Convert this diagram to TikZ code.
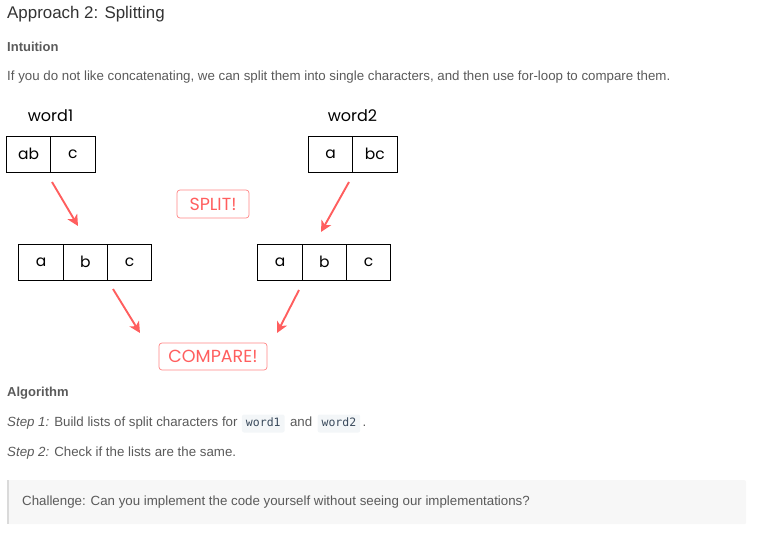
\documentclass[tikz,border=0pt]{standalone}
\usepackage{fontspec}
\setmainfont{Liberation Sans}
\setmonofont{DejaVu Sans Mono}
\newfontfamily\sketchfont{Poppins}
\usetikzlibrary{arrows.meta, positioning}

\definecolor{headgray}{HTML}{333333}
\definecolor{textgray}{HTML}{5A5A5A}
\definecolor{splitred}{HTML}{FF5E5E}
\definecolor{codebg}{HTML}{F3F6F8}
\definecolor{codefg}{HTML}{3A4A5C}
\definecolor{notebg}{HTML}{F7F7F7}
\definecolor{notebar}{HTML}{DADADA}

\tikzstyle{cell} = [rectangle, draw=black, line width=0.8pt, minimum width=44.3pt, minimum height=36pt, inner sep=0pt, outer sep=0pt, font=\sketchfont\fontsize{15.5}{15.5}\selectfont]
\tikzstyle{wordname} = [inner sep=0pt, font=\sketchfont\fontsize{16}{16}\selectfont]
\tikzstyle{shout} = [rectangle, rounded corners=3pt, draw=splitred!75, line width=0.7pt, text=splitred, inner sep=0pt, font=\sketchfont\fontsize{17.5}{17.5}\selectfont]
\tikzstyle{arrow} = [line width=1.9pt, draw=splitred, -{Stealth[length=11pt, width=11pt, inset=3pt]}]
\tikzstyle{body} = [anchor=base west, inner sep=0pt, text=textgray, font=\fontsize{13.3}{15}\selectfont]
\tikzstyle{codeword} = [fill=codebg, rounded corners=2pt, inner xsep=4pt, text=codefg, text height=8.5pt, text depth=2.5pt, inner ysep=3.5pt, font=\ttfamily\fontsize{11.5}{13}\selectfont]

\begin{document}
\begin{tikzpicture}[x=1pt, y=-1pt]
    \useasboundingbox (0,0) rectangle (760,537);

    % heading and intro
    \node (title) [body, text=headgray, font=\fontsize{16.9}{18}\selectfont] at (7,19) {Approach 2: Splitting};
    \node (intuition) [body, font=\bfseries\fontsize{13}{14}\selectfont] at (7,52) {Intuition};
    \node (intro) [body] at (7,81) {If you do not like concatenating, we can split them into single characters, and then use for-loop to compare them.};

    % input words
    \node (w1ab) [cell] at (28.5,154) {ab};
    \node (w1c) [cell, right=0pt of w1ab] {c};
    \node (word1) [wordname, anchor=base] at (50.5,122) {word1};
    \node (w2a) [cell] at (330.5,154) {a};
    \node (w2bc) [cell, right=0pt of w2a] {bc};
    \node (word2) [wordname, anchor=base] at (352.5,122) {word2};

    % split characters
    \node (s1a) [cell] at (41,262) {a};
    \node (s1b) [cell, right=0pt of s1a] {b};
    \node (s1c) [cell, right=0pt of s1b] {c};
    \node (s2a) [cell] at (280,262) {a};
    \node (s2b) [cell, right=0pt of s2a] {b};
    \node (s2c) [cell, right=0pt of s2b] {c};

    \node (split) [shout, minimum width=72pt, minimum height=28pt] at (213,204) {SPLIT!};
    \node (compare) [shout, minimum width=108pt, minimum height=27pt] at (213,356.5) {COMPARE!};

    \coordinate (a1s) at (52,182);  \coordinate (a1e) at (78,226);
    \coordinate (a2s) at (349,182); \coordinate (a2e) at (321,232);
    \coordinate (a3s) at (113,289); \coordinate (a3e) at (140,333);
    \coordinate (a4s) at (299,290); \coordinate (a4e) at (277,333);
    \draw [arrow] (a1s) -- (a1e);
    \draw [arrow] (a2s) -- (a2e);
    \draw [arrow] (a3s) -- (a3e);
    \draw [arrow] (a4s) -- (a4e);

    % algorithm
    \node (algo) [body, font=\bfseries\fontsize{13}{14}\selectfont] at (7,396) {Algorithm};
    \node (step1) [body] at (7,426.5) {\textit{Step 1:} Build lists of split characters for};
    \node (code1) [codeword, base right=4pt of step1] {word1};
    \node (and) [body, base right=5pt of code1] {and};
    \node (code2) [codeword, base right=5pt of and] {word2};
    \node (dot) [body, base right=2pt of code2] {.};
    \node (step2) [body] at (7,456.5) {\textit{Step 2:} Check if the lists are the same.};

    % challenge note
    \node (note) [fill=notebg, rounded corners=2pt, minimum width=739pt, minimum height=44pt, anchor=north west, inner sep=0pt] at (7,480) {};
    \draw [notebar, line width=2pt] ([xshift=1pt]note.north west) -- ([xshift=1pt]note.south west);
    \node (challenge) [body] at (22,505.5) {Challenge: Can you implement the code yourself without seeing our implementations?};
\end{tikzpicture}
\end{document}
